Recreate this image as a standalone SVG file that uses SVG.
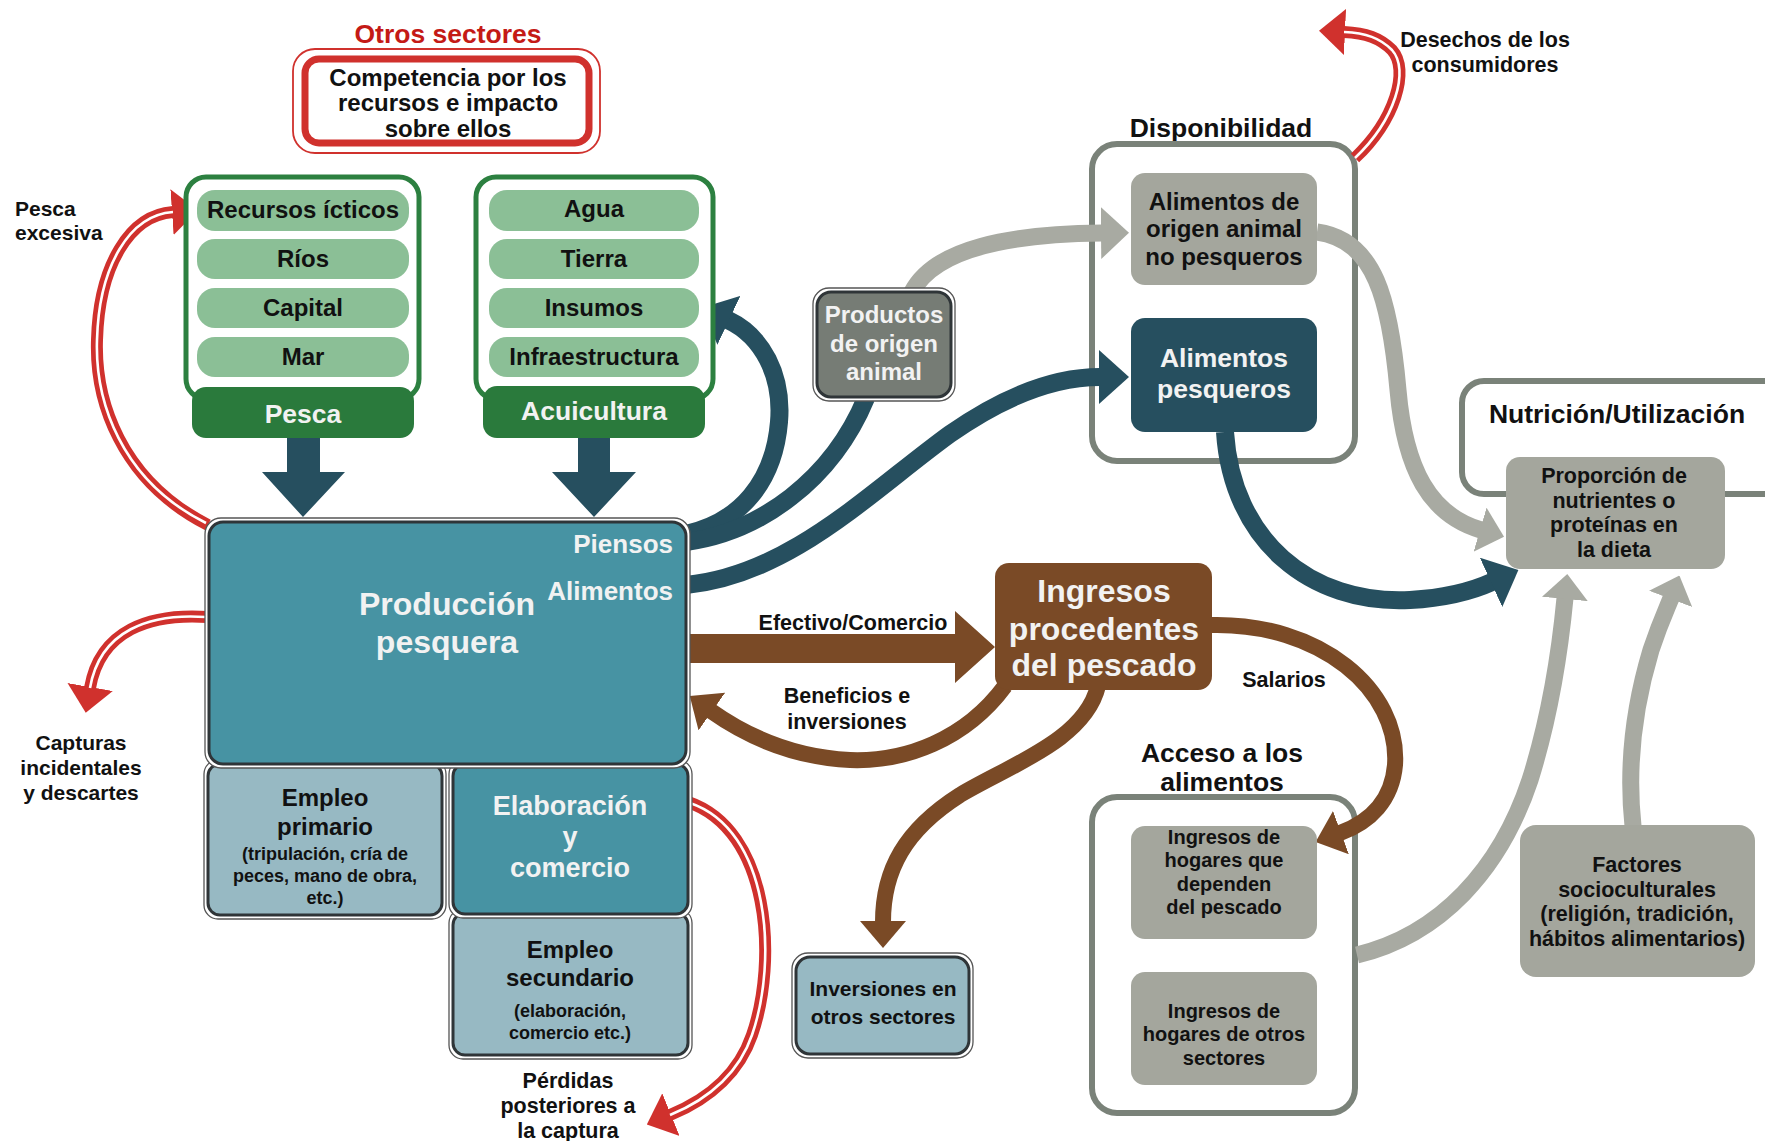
<svg xmlns="http://www.w3.org/2000/svg" width="1765" height="1141" viewBox="0 0 1765 1141">
<style>
text{font-family:"Liberation Sans",Arial,sans-serif;font-weight:bold;text-anchor:middle;fill:#111}
.w{fill:#fff}
.wt{fill:#f2f2f2}
.red{fill:#c41a16}
.f18{font-size:18px}.f19{font-size:19.5px}.f20{font-size:20px}.f21{font-size:21px}.f215{font-size:21.5px}.f24{font-size:24px}.f26{font-size:26px}.f265{font-size:26.5px}.f27{font-size:27px}.f32{font-size:32px}
.cont{fill:#fff;stroke:#7a8279;stroke-width:6}
.grn{fill:#fff;stroke:#2c8040;stroke-width:5}
.item{fill:#8bbf96}
.hdr{fill:#2a7a3c}
.gbox{fill:#a4a69d}
.outer{fill:#fff;stroke:#555;stroke-width:1.3}
.inner{stroke:#2f3538;stroke-width:3}
.teal{fill:#4793a3}
.lblue{fill:#97b9c3}
.dteal{fill:#264f5f}
.brn{fill:#7a4a26}
.cT{fill:none;stroke:#264f5f;stroke-width:18}
.cG{fill:none;stroke:#a8aaa2;stroke-width:17}
.cB{fill:none;stroke:#7a4a26;stroke-width:16}
.cR{fill:none;stroke:#d0312d;stroke-width:12}
.cW{fill:none;stroke:#fff;stroke-width:2.6}
</style>
<defs>
<marker id="mT" markerUnits="userSpaceOnUse" markerWidth="30" markerHeight="54" viewBox="0 0 30 54" refX="1" refY="27" orient="auto"><path d="M0,0 L30,27 L0,54 z" fill="#264f5f"/></marker>
<marker id="mG" markerUnits="userSpaceOnUse" markerWidth="28" markerHeight="52" viewBox="0 0 28 52" refX="1" refY="26" orient="auto"><path d="M0,0 L28,26 L0,52 z" fill="#a8aaa2"/></marker>
<marker id="mGs" markerUnits="userSpaceOnUse" markerWidth="25" markerHeight="46" viewBox="0 0 25 46" refX="1" refY="23" orient="auto"><path d="M0,0 L25,23 L0,46 z" fill="#a8aaa2"/></marker>
<marker id="mB" markerUnits="userSpaceOnUse" markerWidth="27" markerHeight="46" viewBox="0 0 27 46" refX="1" refY="23" orient="auto"><path d="M0,0 L27,23 L0,46 z" fill="#7a4a26"/></marker>
<marker id="mR" markerUnits="userSpaceOnUse" markerWidth="26" markerHeight="46" viewBox="0 0 26 46" refX="1" refY="23" orient="auto"><path d="M0,0 L26,23 L0,46 z" fill="#d0312d"/></marker>
</defs>
<rect width="1765" height="1141" fill="#fff"/>

<!-- containers -->
<g id="otros-sectores">
<text class="red f265" x="448" y="43">Otros sectores</text>
<rect x="293" y="49" width="307" height="104" rx="22" fill="#fff" stroke="#d0312d" stroke-width="1.8"/>
<rect x="305" y="59" width="284" height="84" rx="14" fill="#fff" stroke="#d0312d" stroke-width="7"/>
<text class="f24" x="448" y="86">Competencia por los</text>
<text class="f24" x="448" y="111">recursos e impacto</text>
<text class="f24" x="448" y="137">sobre ellos</text>
</g>
<g id="disponibilidad">
<text class="f265" x="1221" y="137">Disponibilidad</text>
<rect class="cont" x="1092" y="144" width="263" height="317" rx="25"/>
</g>
<g id="acceso">
<text class="f265" x="1222" y="762">Acceso a los</text>
<rect class="cont" x="1092" y="797" width="263" height="316" rx="25"/>
<text class="f265" x="1222" y="791">alimentos</text>
</g>
<g id="nutricion">
<rect class="cont" x="1462" y="381" width="330" height="113" rx="22"/>
<text class="f265" x="1617" y="423">Nutrición/Utilización</text>
</g>

<!-- connectors -->
<g id="connectors">
<polygon class="dteal" points="287,437 320,437 320,472 345,472 303,517 262,472 287,472"/>
<polygon class="dteal" points="578,437 610,437 610,472 636,472 594,517 552,472 578,472"/>
<path class="cT" d="M686,534 C740,522 774,482 779,422 C783,375 762,336 728,320" marker-end="url(#mT)"/>
<path class="cT" d="M686,542 C760,532 832,480 866,398"/>
<path class="cT" d="M686,585 C790,575 870,492 950,434 C1010,392 1058,377 1100,377" marker-end="url(#mT)"/>
<path class="cT" d="M1225,432 C1232,540 1310,605 1410,600 C1445,598 1470,592 1492,582" marker-end="url(#mT)"/>
<path class="cG" d="M912,292 C935,248 1010,234 1102,233" marker-end="url(#mG)"/>
<path class="cG" d="M1317,232 C1375,240 1390,300 1398,390 C1405,470 1430,515 1481,530" marker-end="url(#mGs)"/>
<path class="cG" d="M1357,955 C1440,935 1500,870 1530,780 C1552,710 1561,640 1565,598" marker-end="url(#mGs)"/>
<path class="cG" d="M1633,826 C1626,760 1636,700 1651,650 C1661,620 1668,606 1671,598" marker-end="url(#mGs)"/>
<polygon class="brn" points="688,634 955,634 955,611 995,647 955,683 955,663 688,663"/>
<path class="cB" d="M1005,686 C965,740 905,762 850,760 C790,757 745,735 711,711" marker-end="url(#mB)"/>
<path class="cB" d="M1098,686 C1085,740 1010,765 960,795 C905,830 883,870 883,922" marker-end="url(#mB)"/>
<path class="cB" d="M1210,625 C1320,622 1400,690 1395,765 C1392,800 1370,822 1340,833" marker-end="url(#mB)"/>
<path class="cR" d="M208,525 C120,480 95,400 97,340 C99,265 130,215 173,212" marker-end="url(#mR)"/>
<path class="cW" d="M206,523 C120,480 95,400 97,340 C99,265 130,215 173,212"/>
<path class="cR" d="M208,617 C150,613 100,630 90,688" marker-end="url(#mR)"/>
<path class="cW" d="M206,617 C150,613 100,630 90,688"/>
<path class="cR" d="M688,802 C770,830 778,960 752,1035 C740,1070 712,1098 670,1115" marker-end="url(#mR)"/>
<path class="cW" d="M690,803 C770,830 778,960 752,1035 C740,1070 712,1098 670,1115"/>
<path class="cR" d="M1355,158 C1395,120 1410,70 1392,50 C1380,38 1366,33 1344,32" marker-end="url(#mR)"/>
<path class="cW" d="M1355,158 C1395,120 1410,70 1392,50 C1380,38 1366,33 1344,32"/>
<text class="f215" x="853" y="630">Efectivo/Comercio</text>
<text class="f215" x="847" y="703">Beneficios e</text>
<text class="f215" x="847" y="729">inversiones</text>
<text class="f215" x="1284" y="687">Salarios</text>
<text class="f21" x="15" y="216" style="text-anchor:start">Pesca</text>
<text class="f21" x="15" y="240" style="text-anchor:start">excesiva</text>
<text class="f21" x="81" y="750">Capturas</text>
<text class="f21" x="81" y="775">incidentales</text>
<text class="f21" x="81" y="800">y descartes</text>
<text class="f215" x="568" y="1088">Pérdidas</text>
<text class="f215" x="568" y="1113">posteriores a</text>
<text class="f215" x="568" y="1138">la captura</text>
<text class="f215" x="1485" y="47">Desechos de los</text>
<text class="f215" x="1485" y="72">consumidores</text>
</g>

<!-- nodes -->
<g id="pesca">
<rect class="grn" x="186" y="177" width="233" height="222" rx="20"/>
<rect class="item" x="197" y="190" width="212" height="41" rx="18"/>
<rect class="item" x="197" y="239" width="212" height="40" rx="18"/>
<rect class="item" x="197" y="288" width="212" height="40" rx="18"/>
<rect class="item" x="197" y="337" width="212" height="40" rx="18"/>
<rect class="hdr" x="192" y="387" width="222" height="51" rx="14"/>
<text class="f24" x="303" y="218">Recursos ícticos</text>
<text class="f24" x="303" y="267">Ríos</text>
<text class="f24" x="303" y="316">Capital</text>
<text class="f24" x="303" y="365">Mar</text>
<text class="f265 wt" x="303" y="423">Pesca</text>
</g>
<g id="acuicultura">
<rect class="grn" x="476" y="177" width="237" height="222" rx="20"/>
<rect class="item" x="489" y="190" width="210" height="41" rx="18"/>
<rect class="item" x="489" y="239" width="210" height="40" rx="18"/>
<rect class="item" x="489" y="288" width="210" height="40" rx="18"/>
<rect class="item" x="489" y="337" width="210" height="40" rx="18"/>
<rect class="hdr" x="483" y="386" width="222" height="52" rx="14"/>
<text class="f24" x="594" y="217">Agua</text>
<text class="f24" x="594" y="267">Tierra</text>
<text class="f24" x="594" y="316">Insumos</text>
<text class="f24" x="594" y="365">Infraestructura</text>
<text class="f265 wt" x="594" y="420">Acuicultura</text>
</g>
<g id="empleo-secundario">
<rect class="outer" x="449" y="909" width="243" height="150" rx="14"/>
<rect class="inner lblue" x="453" y="913" width="235" height="142" rx="12"/>
<text class="f24" x="570" y="958">Empleo</text>
<text class="f24" x="570" y="986">secundario</text>
<text class="f18" x="570" y="1017">(elaboración,</text>
<text class="f18" x="570" y="1039">comercio etc.)</text>
</g>
<g id="elaboracion">
<rect class="outer" x="449" y="760" width="243" height="158" rx="14"/>
<rect class="inner teal" x="453" y="764" width="235" height="150" rx="12"/>
<text class="f27 wt" x="570" y="815">Elaboración</text>
<text class="f27 wt" x="570" y="846">y</text>
<text class="f27 wt" x="570" y="877">comercio</text>
</g>
<g id="empleo-primario">
<rect class="outer" x="204" y="760" width="242" height="159" rx="14"/>
<rect class="inner lblue" x="208" y="764" width="234" height="151" rx="12"/>
<text class="f24" x="325" y="806">Empleo</text>
<text class="f24" x="325" y="835">primario</text>
<text class="f18" x="325" y="860">(tripulación, cría de</text>
<text class="f18" x="325" y="882">peces, mano de obra,</text>
<text class="f18" x="325" y="904">etc.)</text>
</g>
<g id="produccion">
<rect class="outer" x="205" y="518" width="485" height="250" rx="16"/>
<rect class="inner teal" x="209" y="522" width="477" height="242" rx="14"/>
<text class="f32 wt" x="447" y="615">Producción</text>
<text class="f32 wt" x="447" y="653">pesquera</text>
<text class="f26 wt" x="673" y="553" style="text-anchor:end">Piensos</text>
<text class="f26 wt" x="673" y="600" style="text-anchor:end">Alimentos</text>
</g>
<g id="productos-animal">
<rect class="outer" x="813" y="288" width="142" height="113" rx="16"/>
<rect class="inner" fill="#767c75" x="817" y="292" width="134" height="105" rx="14"/>
<text class="f24 wt" x="884" y="323">Productos</text>
<text class="f24 wt" x="884" y="352">de origen</text>
<text class="f24 wt" x="884" y="380">animal</text>
</g>
<g id="alimentos-animal">
<rect class="gbox" x="1131" y="173" width="186" height="112" rx="14"/>
<text class="f24" x="1224" y="210">Alimentos de</text>
<text class="f24" x="1224" y="237">origen animal</text>
<text class="f24" x="1224" y="265">no pesqueros</text>
</g>
<g id="alimentos-pesqueros">
<rect class="dteal" x="1131" y="318" width="186" height="114" rx="14"/>
<text class="f265 wt" x="1224" y="367">Alimentos</text>
<text class="f265 wt" x="1224" y="398">pesqueros</text>
</g>
<g id="proporcion">
<rect class="gbox" x="1506" y="457" width="219" height="112" rx="14"/>
<text class="f215" x="1614" y="483">Proporción de</text>
<text class="f215" x="1614" y="508">nutrientes o</text>
<text class="f215" x="1614" y="532">proteínas en</text>
<text class="f215" x="1614" y="557">la dieta</text>
</g>
<g id="ingresos-pescado">
<rect class="brn" x="995" y="563" width="217" height="127" rx="14"/>
<text class="f32 wt" x="1104" y="602">Ingresos</text>
<text class="f32 wt" x="1104" y="640">procedentes</text>
<text class="f32 wt" x="1104" y="676">del pescado</text>
</g>
<g id="hogares-pescado">
<rect class="gbox" x="1131" y="826" width="186" height="113" rx="14"/>
<text class="f20" x="1224" y="844">Ingresos de</text>
<text class="f20" x="1224" y="867">hogares que</text>
<text class="f20" x="1224" y="891">dependen</text>
<text class="f20" x="1224" y="914">del pescado</text>
</g>
<g id="hogares-otros">
<rect class="gbox" x="1131" y="972" width="186" height="113" rx="14"/>
<text class="f20" x="1224" y="1018">Ingresos de</text>
<text class="f20" x="1224" y="1041">hogares de otros</text>
<text class="f20" x="1224" y="1065">sectores</text>
</g>
<g id="factores">
<rect class="gbox" x="1520" y="825" width="235" height="152" rx="16"/>
<text class="f215" x="1637" y="872">Factores</text>
<text class="f215" x="1637" y="897">socioculturales</text>
<text class="f215" x="1637" y="921">(religión, tradición,</text>
<text class="f215" x="1637" y="946">hábitos alimentarios)</text>
</g>
<g id="inversiones">
<rect class="outer" x="792" y="953" width="181" height="105" rx="16"/>
<rect class="inner lblue" x="796" y="957" width="173" height="97" rx="14"/>
<text class="f21" x="883" y="996">Inversiones en</text>
<text class="f21" x="883" y="1024">otros sectores</text>
</g>
</svg>
